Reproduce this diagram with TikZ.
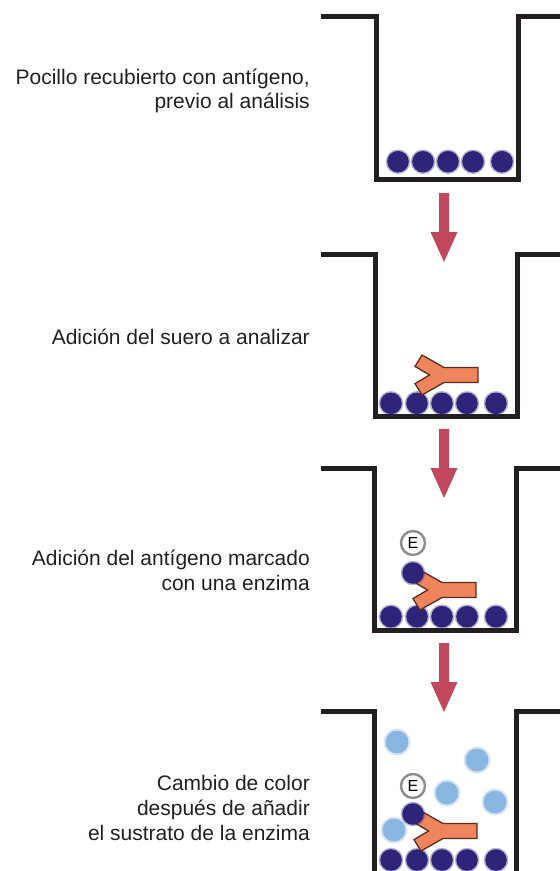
\documentclass[tikz,border=0pt]{standalone}
\usepackage{fontspec}
\setmainfont{Liberation Sans}
\definecolor{ink}{RGB}{35,31,32}
\definecolor{beadcol}{RGB}{46,36,122}
\definecolor{bluecol}{RGB}{138,183,226}
\definecolor{abfill}{RGB}{240,132,92}
\definecolor{abline}{RGB}{90,45,30}
\definecolor{arrowcol}{RGB}{192,72,92}
\begin{document}
\begin{tikzpicture}[x=1pt,y=-1pt,
  wall/.style={draw=ink,line width=5pt,line join=miter,line cap=butt},
  label/.style={anchor=base east,inner sep=0pt,text=ink,font=\fontsize{21}{24}\selectfont},
  enz/.style={circle,draw=black!45,line width=2.4pt,fill=white,minimum size=24pt,inner sep=0pt,
    text=black,font=\fontsize{16}{16}\selectfont},
  antibody/.pic={
    \filldraw[fill=abfill,draw=abline,line width=1.3pt,line join=miter]
      (35,-7.5) -- (35,7.5) -- (1,7.5) -- (-21,20) -- (-28,8.6) -- (-13.5,0)
      -- (-28,-8.6) -- (-21,-20) -- (1,-7.5) -- cycle;
  },
  bead/.pic={
    \fill[beadcol,opacity=0.35] (0,0) circle (12.3);
    \fill[beadcol] (0,0) circle (10.8);
  },
  spot/.pic={
    \fill[bluecol,opacity=0.35] (0,0) circle (13.5);
    \fill[bluecol] (0,0) circle (11.5);
  },
  flowarrow/.pic={
    \fill[arrowcol] (-5,0) -- (5,0) -- (5,39) -- (13.5,39) -- (0,69) -- (-13.5,39) -- (-5,39) -- cycle;
  }]
\useasboundingbox (0,0) rectangle (560,871);
\clip (0,0) rectangle (560,871);

% ---------- step 1: coated well ----------
\draw[wall] (321,16.5) -- (376,16.5) -- (376,179.5) -- (518,179.5) -- (518,16.5) -- (562,16.5);
\foreach \x [count=\i] in {398,423,448,473,502}
  \pic (b1\i) at (\x,161.7) {bead};
\node[label] (t1a) at (310,84) {Pocillo recubierto con antígeno,};
\node[label] (t1b) at (310,108) {previo al análisis};

\pic (a1) at (444,193) {flowarrow};

% ---------- step 2: serum added ----------
\draw[wall] (321,254.5) -- (375.5,254.5) -- (375.5,416) -- (517,416) -- (517,254.5) -- (562,254.5);
\foreach \x [count=\i] in {391,417,442,467,496}
  \pic (b2\i) at (\x,403.3) {bead};
\pic (ab2) at (443,375) {antibody};
\node[label] (t2) at (310,344.3) {Adición del suero a analizar};

\pic (a2) at (444,429) {flowarrow};

% ---------- step 3: enzyme-labelled antigen ----------
\draw[wall] (321,468.5) -- (374.5,468.5) -- (374.5,630) -- (516,630) -- (516,468.5) -- (562,468.5);
\foreach \x [count=\i] in {391,417,442,467,496}
  \pic (b3\i) at (\x,616.7) {bead};
\pic (ab3) at (441,590) {antibody};
\pic (g3) at (413,573) {bead};
\node[enz] (e3) at (413,543) {E};
\node[label] (t3a) at (310,565) {Adición del antígeno marcado};
\node[label] (t3b) at (310,590) {con una enzima};

\pic (a3) at (444,643) {flowarrow};

% ---------- step 4: substrate turns colour ----------
\draw[wall] (321,711) -- (374.5,711) -- (374.5,874) -- (516,874) -- (516,711) -- (562,711);
\foreach \x/\y [count=\i] in {397/742,477/760,447/793,495/802,394/830}
  \pic (s\i) at (\x,\y) {spot};
\foreach \x [count=\i] in {391,417,442,467,496}
  \pic (b4\i) at (\x,860) {bead};
\pic (ab4) at (442,831) {antibody};
\pic (g4) at (413,814) {bead};
\node[enz] (e4) at (413,786) {E};
\node[label] (t4a) at (310,790) {Cambio de color};
\node[label] (t4b) at (310,815) {después de añadir};
\node[label] (t4c) at (310,840) {el sustrato de la enzima};
\end{tikzpicture}
\end{document}
